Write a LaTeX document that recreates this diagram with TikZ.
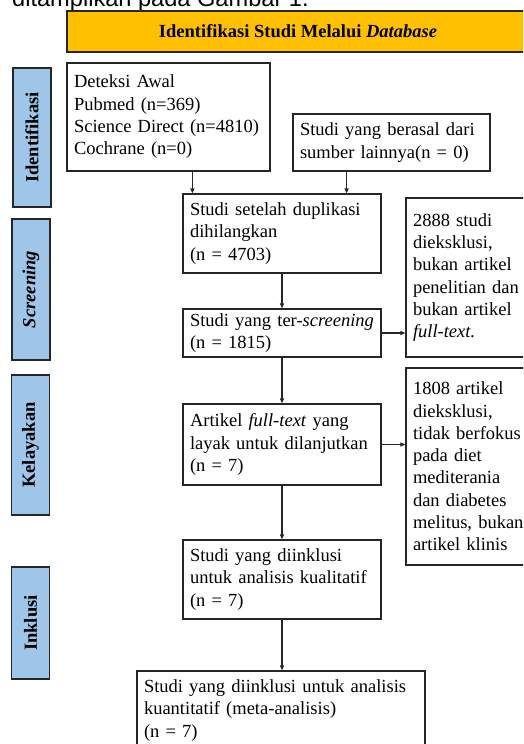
\documentclass[tikz,border=0pt]{standalone}
\usepackage{fontspec}
\setmainfont{Liberation Serif}
\newfontfamily\arialfont{Liberation Sans}
\usetikzlibrary{arrows.meta}
\definecolor{bannerfill}{HTML}{FFC000}
\definecolor{stagefill}{HTML}{9FC5E8}
\definecolor{edgecol}{HTML}{262626}
\begin{document}
\begin{tikzpicture}[x=1pt,y=-1pt,
  txt/.style={font=\fontsize{18.5}{22.3}\selectfont},
  box/.style={txt, draw=edgecol, line width=1.2pt, fill=white, inner xsep=7pt, inner ysep=0pt, align=left},
  stage/.style={draw=edgecol, line width=1.5pt, fill=stagefill, rotate=90, inner sep=0pt,
    minimum height=38pt, font=\fontsize{18.5}{22.3}\selectfont\bfseries},
  arr/.style={draw=edgecol, line width=1.2pt, -{Triangle[length=5pt,width=4pt]}}]
\path[use as bounding box, clip] (0,0) rectangle (523,744);

\node[anchor=base west, inner sep=0pt, font=\arialfont\fontsize{23.6}{28}\selectfont] (cap) at (12,6) {ditampilkan pada Gambar 1.};

\node[draw=edgecol, line width=1.5pt, fill=bannerfill, minimum width=462pt, minimum height=41pt, inner sep=0pt,
  font=\fontsize{18.5}{22.3}\selectfont\bfseries] (ban) at (298,31.5) {Identifikasi Studi Melalui \textit{Database}};

\node[stage, minimum width=139pt] (s1) at (32,137.5) {Identifikasi};
\node[stage, minimum width=141pt] (s2) at (31,289.5) {\itshape Screening};
\node[stage, minimum width=140pt] (s3) at (30.5,445) {Kelayakan};
\node[stage, minimum width=112pt] (s4) at (30.5,623) {Inklusi};

\node[box, text width=189pt, minimum height=108pt] (det) at (168.5,117) {Deteksi Awal\\Pubmed (n=369)\\Science Direct (n=4810)\\Cochrane (n=0)};
\node[box, text width=183pt, minimum height=57pt] (src) at (391.5,142.5) {Studi yang berasal dari\\sumber lainnya(n = 0)};
\node[box, text width=184pt, minimum height=79pt] (dup) at (282,233.5) {Studi setelah duplikasi\\dihilangkan\\(n = 4703)};
\node[box, text width=184pt, minimum height=48pt] (scr) at (282,333) {Studi yang ter-\textit{screening}\\(n = 1815)};
\node[box, text width=112pt, minimum height=159pt] (ex1) at (469,277.5) {2888 studi\\dieksklusi,\\bukan artikel\\penelitian dan\\bukan artikel\\\textit{full-text.}};
\node[box, text width=112pt, minimum height=197pt] (ex2) at (469,466.5) {1808 artikel\\dieksklusi,\\tidak berfokus\\pada diet\\mediterania\\dan diabetes\\melitus, bukan\\artikel klinis};
\node[box, text width=184pt, minimum height=81pt] (art) at (282,444.5) {Artikel \textit{full-text} yang\\layak untuk dilanjutkan\\(n = 7)};
\node[box, text width=184pt, minimum height=79pt] (inc) at (282,579.5) {Studi yang diinklusi\\untuk analisis kualitatif\\(n = 7)};
\node[box, text width=274pt, minimum height=79pt] (fin) at (281,710.5) {Studi yang diinklusi untuk analisis\\kuantitatif (meta-analisis)\\(n = 7)};

\draw[arr] ([xshift=10pt]dup.north west |- det.south) -- ([xshift=10pt]dup.north west);
\draw[arr] ([xshift=-35pt]dup.north east |- src.south) -- ([xshift=-35pt]dup.north east);
\draw[arr] (dup.south) -- (scr.north);
\draw[arr] (scr.east) -- (ex1.west |- scr.east);
\draw[arr] (scr.south) -- (art.north);
\draw[arr] (art.east) -- (ex2.west |- art.east);
\draw[arr] (art.south) -- (inc.north);
\draw[arr] (inc.south) -- (inc.south |- fin.north);
\end{tikzpicture}
\end{document}
